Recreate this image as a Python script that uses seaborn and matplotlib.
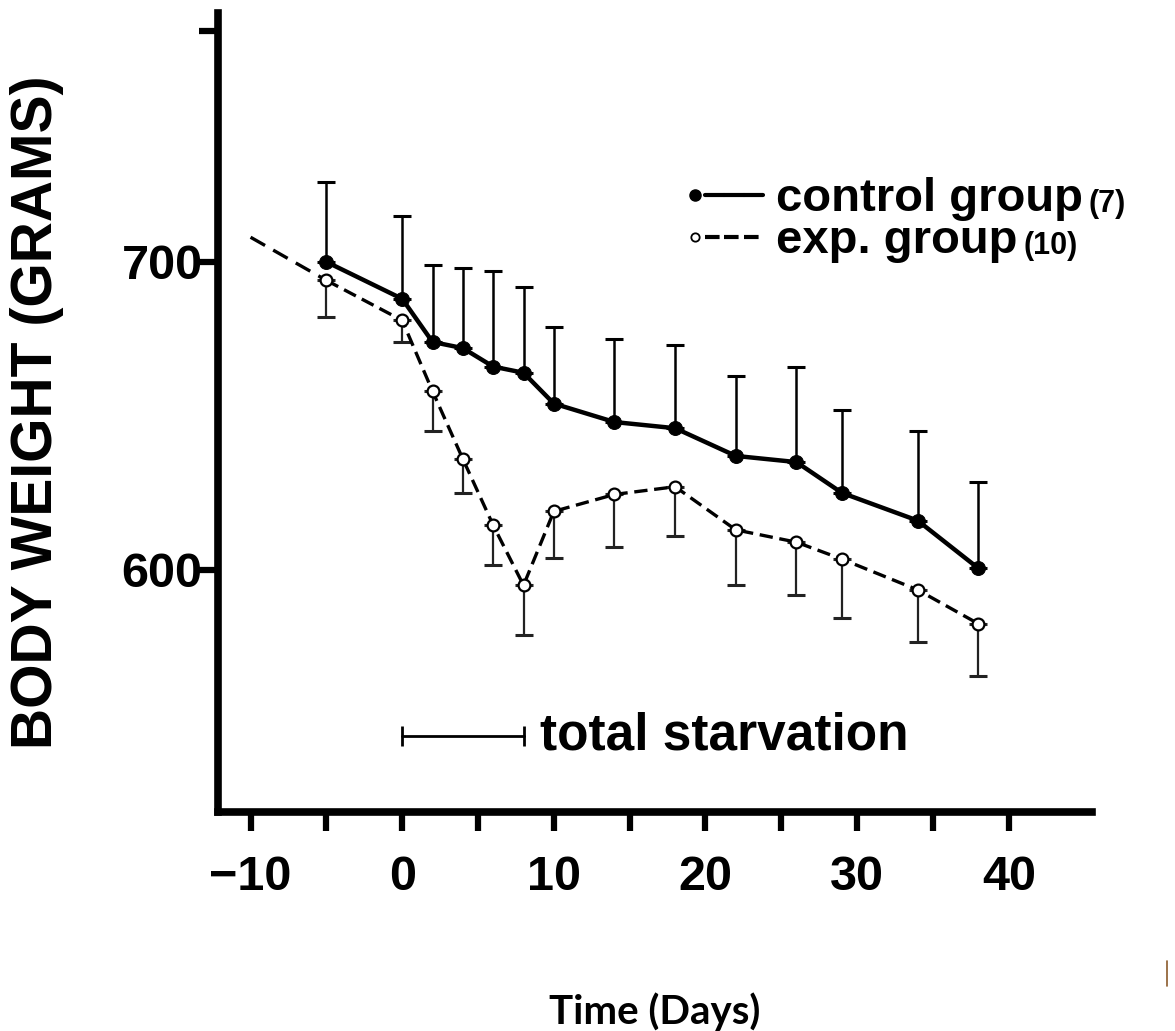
import numpy as np
import seaborn as sns
import matplotlib.pyplot as plt
from matplotlib.lines import Line2D
from matplotlib.legend_handler import HandlerTuple

# values
days = [-5, 0, 2, 4, 6, 8, 10, 14, 18, 22, 26, 29, 34, 38]
control_weight = [700, 688, 674, 672, 666, 664, 654, 648, 646, 637, 635, 625, 616, 600.5]
control_se = [26, 27, 25, 26, 31, 28, 25, 27, 27, 26, 31, 27, 29, 28]
exp_weight = [694, 681, 658, 636, 614.5, 595, 619, 624.5, 627, 613, 609, 603.5, 593.5, 582.5]
exp_se = [12, 7, 13, 11, 13, 16, 15, 17, 16, 18, 17, 19, 17, 17]

# dashed lead-in of the exp. group before the first measurement
lead_days = [-10, -5]
lead_weight = [708, 694]

starvation_days = [0, 8]
starvation_level = 546

x_ticks = list(range(-10, 45, 5))
x_labels = ['−10', '', '0', '', '10', '', '20', '', '30', '', '40']
y_ticks = [600, 700, 775]
y_labels = ['600', '700', '']

sns.set_style('ticks')
plt.rcParams['font.family'] = ['Liberation Sans', 'DejaVu Sans']
plt.rcParams['font.weight'] = 'bold'
for key in ['text.color', 'axes.labelcolor', 'xtick.color', 'ytick.color', 'axes.edgecolor']:
    plt.rcParams[key] = 'black'

fig = plt.figure(figsize=(11.75, 10.31), dpi=100)
ax = fig.add_axes([0.1855, 0.2124, 0.744, 0.775])

n = len(days)
ax.errorbar(days, control_weight, yerr=[np.zeros(n), control_se], fmt='none',
            ecolor='black', elinewidth=1.8, capsize=6.5, capthick=2.2, zorder=1)
ax.errorbar(days, exp_weight, yerr=[exp_se, np.zeros(n)], fmt='none',
            ecolor='#222222', elinewidth=1.6, capsize=6.5, capthick=2.2, zorder=1)

sns.lineplot(x=lead_days, y=lead_weight, ax=ax, color='black', lw=2.4,
             ls=(0, (5, 2.8)), errorbar=None)
sns.lineplot(x=days, y=exp_weight, ax=ax, color='black', lw=2.4, ls=(0, (4, 2)),
             marker='o', ms=8.5, mfc='white', mec='black', mew=1.6, errorbar=None)
sns.lineplot(x=days, y=control_weight, ax=ax, color='black', lw=3.2,
             marker='o', ms=10, mfc='black', mec='black', errorbar=None)

# total starvation interval
ax.plot(starvation_days, [starvation_level] * 2, color='black', lw=2,
        marker='|', ms=15, mew=2)
ax.text(starvation_days[1] + 1.1, starvation_level, 'total starvation',
        fontsize=37, fontweight='bold', va='center', ha='left')

ax.set_xlim(-12.15, 45.5)
ax.set_ylim(521.4, 780.8)
ax.set_xticks(x_ticks)
ax.set_xticklabels(x_labels)
ax.set_yticks(y_ticks)
ax.set_yticklabels(y_labels)
ax.tick_params(axis='x', length=14, width=4.5, labelsize=35, pad=17, direction='out')
ax.tick_params(axis='y', length=14, width=4.5, labelsize=35, pad=-3, direction='out')
for lab in ax.get_xticklabels() + ax.get_yticklabels():
    lab.set_fontweight('bold')
for side in ['top', 'right']:
    ax.spines[side].set_visible(False)
for side in ['left', 'bottom']:
    ax.spines[side].set_linewidth(5.5)

ax.set_ylabel('BODY WEIGHT (GRAMS)', fontsize=41, fontweight='bold')
ax.yaxis.set_label_coords(-0.176, 0.5)
ax.set_xlabel('Time (Days)', fontsize=29, fontweight='bold', family=['Lato', 'DejaVu Sans'])
ax.xaxis.set_label_coords(0.5, -0.226)

# legend: marker first, then line
dot_c = Line2D([], [], color='black', marker='o', ms=8, ls='none')
dot_e = Line2D([], [], color='black', marker='o', ms=6, mfc='white', mew=1.3, ls='none')
line_c = Line2D([], [], color='black', lw=3)
line_e = Line2D([], [], color='black', lw=3, ls=(0, (3.5, 1.6)))
leg = ax.legend([(dot_c, line_c, line_c, line_c), (dot_e, line_e, line_e, line_e)],
                ['control group', 'exp. group'],
                handler_map={tuple: HandlerTuple(ndivide=None, pad=0)},
                loc='upper left', bbox_to_anchor=(0.563, 0.851),
                bbox_transform=fig.transFigure, frameon=False, borderpad=0,
                handlelength=1.65, handletextpad=0.28, labelspacing=-0.04,
                prop={'family': 'Liberation Sans', 'weight': 'bold', 'size': 34})
fig.canvas.draw()
for txt, n_animals in zip(leg.get_texts(), ['(7)', '(10)']):
    ax.annotate(n_animals, xy=(1, 0.4), xycoords=txt, xytext=(4, 0),
                textcoords='offset points', va='center', ha='left',
                fontsize=22, fontweight='bold', zorder=6)

# small stray mark at the lower right of the original image
fig.add_artist(Line2D([0.9932, 0.9932], [0.0436, 0.0679], color='#8B5A2B', lw=1.2))

fig.savefig('out.png', dpi=100, facecolor='white')
